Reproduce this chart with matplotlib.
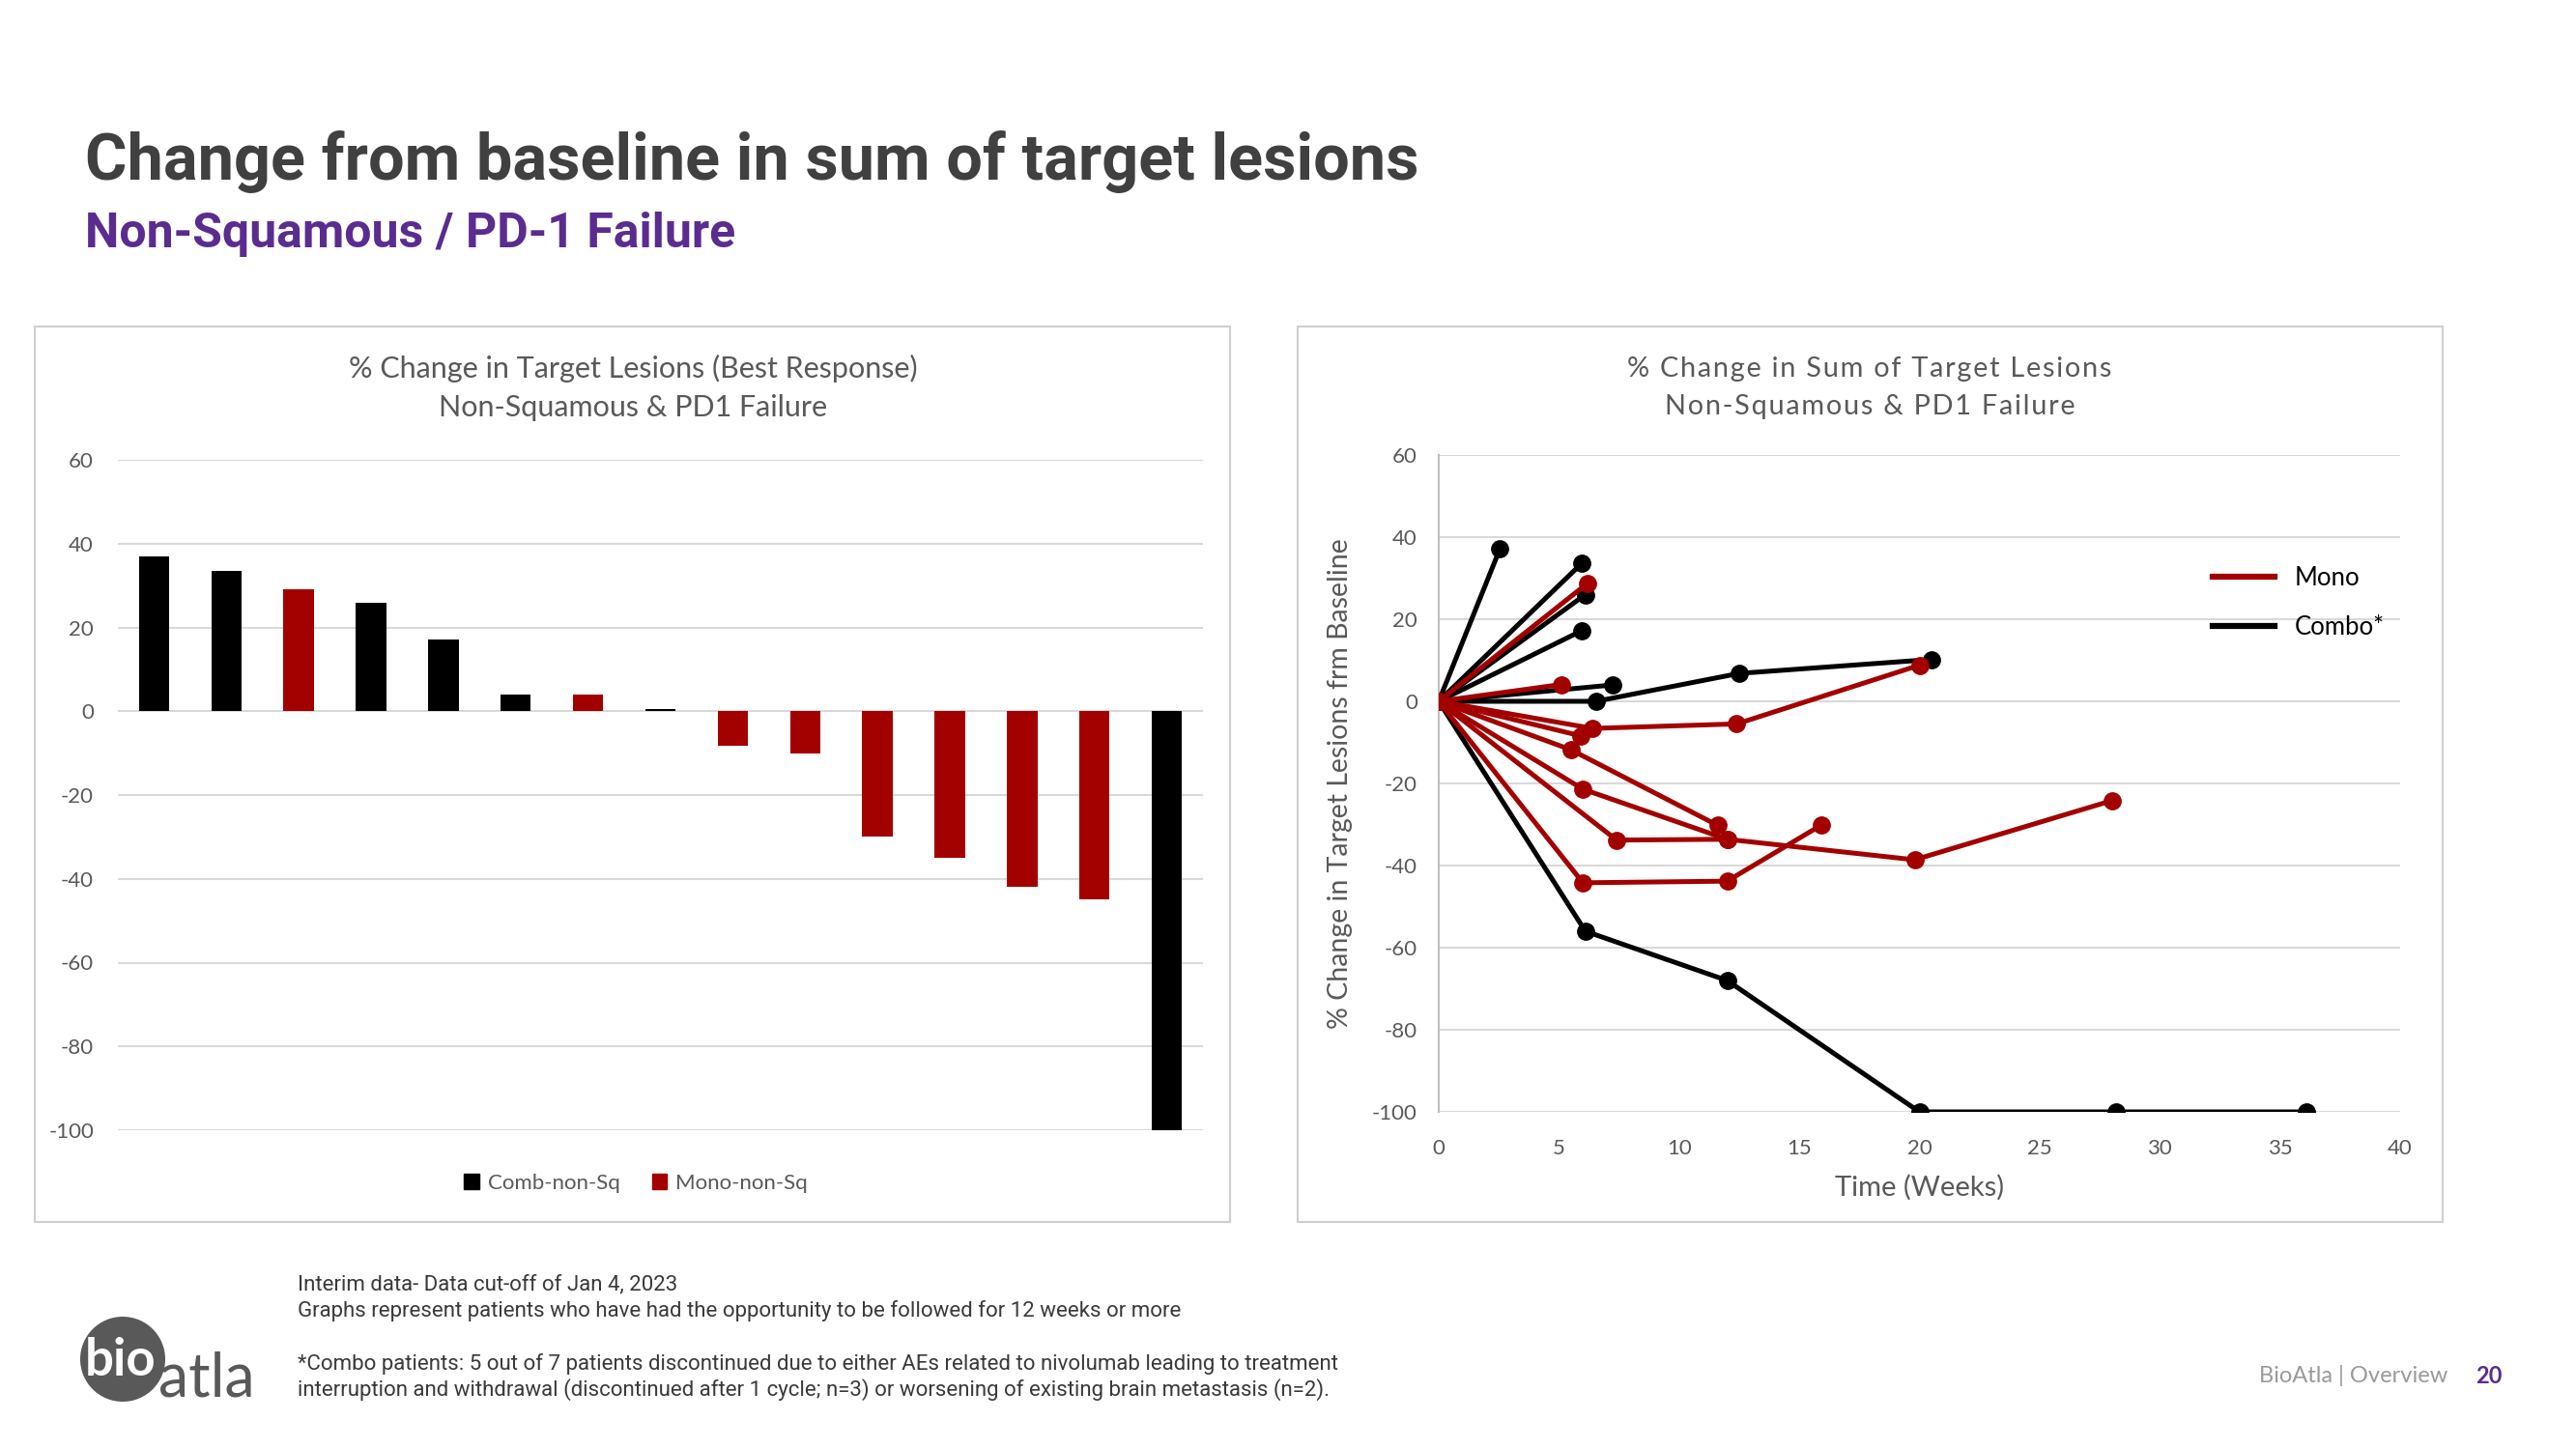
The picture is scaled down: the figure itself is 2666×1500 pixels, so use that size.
import matplotlib.pyplot as plt
from matplotlib.lines import Line2D
from matplotlib.patches import Rectangle, Ellipse, Patch

plt.rcParams["axes.unicode_minus"] = False

W, H = 2666, 1500
RED = "#a30000"
BLACK = "#000000"
GRID = "#d9d9d9"
TXT = "#595959"

# --- best response waterfall (left) ---
bar_values = [37, 33.6, 29, 25.9, 17.1, 4.0, 4.0, 0.5, -8.2, -10, -30, -35, -42, -45, -100]
bar_groups = ["Comb", "Comb", "Mono", "Comb", "Comb", "Comb", "Mono", "Comb",
              "Mono", "Mono", "Mono", "Mono", "Mono", "Mono", "Comb"]
bar_ticks = [60, 40, 20, 0, -20, -40, -60, -80, -100]

# --- spider plot (right): weeks / % change per patient ---
combo_weeks = [
    [0, 2.55],
    [0, 5.95],
    [0, 6.1],
    [0, 5.95],
    [0, 7.25],
    [0, 6.55, 12.5, 20.5],
    [0, 6.1, 12.0, 20.0, 28.2, 36.1],
]
combo_change = [
    [0, 37.2],
    [0, 33.6],
    [0, 26.0],
    [0, 17.2],
    [0, 4.0],
    [0, 0, 6.8, 10.2],
    [0, -56, -68, -100, -100, -100],
]
mono_weeks = [
    [0, 6.2],
    [0, 5.1],
    [0, 6.4, 12.4, 20.0],
    [0, 5.9],
    [0, 5.5, 11.6],
    [0, 6.0, 12.0, 19.8, 28.0],
    [0, 7.4, 12.0],
    [0, 6.0, 12.0, 15.9],
]
mono_change = [
    [0, 28.8],
    [0, 4.1],
    [0, -6.6, -5.5, 8.8],
    [0, -8.4],
    [0, -11.8, -30.2],
    [0, -21.4, -33.6, -38.6, -24.2],
    [0, -33.8, -33.6],
    [0, -44.2, -43.8, -30.2],
]
line_xticks = [0, 5, 10, 15, 20, 25, 30, 35, 40]
line_yticks = [60, 40, 20, 0, -20, -40, -60, -80, -100]

SPACED = ["Lato", "DejaVu Sans"]


def fx(px):
    return px / W


def fy(py):
    return 1 - py / H


def spaced(s):
    # Excel chart uses expanded character spacing
    return "\u200a".join(s)


fig = plt.figure(figsize=(W / 100, H / 100), dpi=100)
fig.patch.set_facecolor("white")

# slide header
fig.text(fx(88), fy(167), "Change from baseline in sum of target lesions",
         family="Roboto", weight="bold", fontsize=48, color="#404040", va="center")
fig.text(fx(88), fy(242), "Non-Squamous / PD-1 Failure",
         family="Roboto", weight="bold", fontsize=36, color="#5b2c8f", va="center")

# chart frames
for x0, x1 in [(36, 1273), (1343, 2528)]:
    fig.patches.append(Rectangle((fx(x0), fy(1265)), fx(x1 - x0), (1265 - 338) / H,
                                 transform=fig.transFigure, facecolor="none",
                                 edgecolor="#d0d0d0", linewidth=1.5))

# ---------- left: waterfall ----------
ax1 = fig.add_axes([fx(122), fy(1170), fx(1245 - 122), (1170 - 476) / H])
colors = [BLACK if g == "Comb" else RED for g in bar_groups]
ax1.bar(range(len(bar_values)), bar_values, width=0.42, color=colors, zorder=3)
ax1.set_xlim(-0.5, len(bar_values) - 0.5)
ax1.set_ylim(-100, 60)
ax1.set_yticks(bar_ticks)
ax1.set_xticks([])
ax1.grid(axis="y", color=GRID, linewidth=1.5, zorder=0)
for s in ax1.spines.values():
    s.set_visible(False)
ax1.tick_params(axis="y", length=0, pad=18, labelsize=16, labelcolor=TXT)
for lab in ax1.get_yticklabels():
    lab.set_family("Lato")

fig.text(fx(655), fy(381), "% Change in Target Lesions (Best Response)",
         family="Lato", fontsize=22, color=TXT, ha="center", va="center")
fig.text(fx(655), fy(422), "Non-Squamous & PD1 Failure",
         family="Lato", fontsize=22, color=TXT, ha="center", va="center")
fig.legend(handles=[Patch(color=BLACK, label="Comb-non-Sq"),
                    Patch(color=RED, label="Mono-non-Sq")],
           loc="center", bbox_to_anchor=(fx(658), fy(1225)), ncol=2, frameon=False,
           prop={"family": "Lato", "size": 16}, labelcolor=TXT,
           handlelength=0.7, handleheight=0.7, handletextpad=0.4, columnspacing=1.5)

# ---------- right: spider plot ----------
ax2 = fig.add_axes([fx(1489), fy(1151), fx(2484 - 1489), (1151 - 471) / H])
for xs, ys in zip(combo_weeks, combo_change):
    ax2.plot(xs, ys, color=BLACK, linewidth=3.6, marker="o", markersize=12.5,
             solid_capstyle="round", zorder=3)
for xs, ys in zip(mono_weeks, mono_change):
    ax2.plot(xs, ys, color=RED, linewidth=3.6, marker="o", markersize=12.5,
             solid_capstyle="round", zorder=4)
ax2.set_xlim(0, 40)
ax2.set_ylim(-100, 60)
ax2.set_xticks(line_xticks)
ax2.set_yticks(line_yticks)
ax2.grid(axis="y", color=GRID, linewidth=1.5, zorder=0)
for k in ["top", "right", "bottom"]:
    ax2.spines[k].set_visible(False)
ax2.spines["left"].set_color("#bfbfbf")
ax2.spines["left"].set_linewidth(1.5)
ax2.tick_params(length=0, labelsize=16, labelcolor=TXT)
ax2.tick_params(axis="y", pad=16)
ax2.tick_params(axis="x", pad=20)
for lab in ax2.get_xticklabels() + ax2.get_yticklabels():
    lab.set_family("Lato")

fig.text(fx(1935), fy(382), spaced("% Change in Sum of Target Lesions"),
         family=SPACED, fontsize=20.8, color=TXT, ha="center", va="center")
fig.text(fx(1935), fy(421), spaced("Non-Squamous & PD1 Failure"),
         family=SPACED, fontsize=20.8, color=TXT, ha="center", va="center")
ax2.set_xlabel("Time (Weeks)", family="Lato", fontsize=21, color=TXT, labelpad=12)
ax2.set_ylabel("% Change in Target Lesions frm Baseline", family="Lato",
               fontsize=20.5, color=TXT, labelpad=14)
ax2.legend(handles=[Line2D([], [], color=RED, linewidth=4.5, label="Mono"),
                    Line2D([], [], color=BLACK, linewidth=4.5, label="Combo*")],
           loc="upper left", bbox_to_anchor=(0.782, 0.865), frameon=False,
           prop={"family": "Lato", "size": 18.5}, labelcolor="#000000",
           handlelength=2.5, handletextpad=0.8, labelspacing=1.0)

# ---------- footer ----------
foot = dict(family=["Liberation Sans Narrow", "Roboto"], fontsize=16, color="#3a3a3a",
            va="center")
fig.text(fx(308), fy(1330), "Interim data- Data cut-off of Jan 4, 2023", **foot)
fig.text(fx(308), fy(1357), "Graphs represent patients who have had the opportunity "
         "to be followed for 12 weeks or more", **foot)
fig.text(fx(308), fy(1412), "*Combo patients: 5 out of 7 patients discontinued due to "
         "either AEs related to nivolumab leading to treatment", **foot)
fig.text(fx(308), fy(1439), "interruption and withdrawal (discontinued after 1 cycle; "
         "n=3) or worsening of existing brain metastasis (n=2).", **foot)

# logo
fig.patches.append(Ellipse((fx(127), fy(1407)), 88 / W, 88 / H, transform=fig.transFigure,
                           facecolor="#595959", edgecolor="none"))
fig.text(fx(88), fy(1424), "bio", family="Lato", weight="bold", fontsize=38,
         color="white", ha="left", va="baseline")
fig.text(fx(164), fy(1445), "atla", family="Lato", fontsize=45, color="#595959",
         ha="left", va="baseline")

fig.text(fx(2338), fy(1424), "BioAtla | Overview", family="Lato", fontsize=17,
         color="#9a9a9a", va="center")
fig.text(fx(2562), fy(1424), "20", family="Lato", weight="bold", fontsize=17,
         color="#5b2c8f", va="center")

fig.savefig("out.png", dpi=100, facecolor="white")
